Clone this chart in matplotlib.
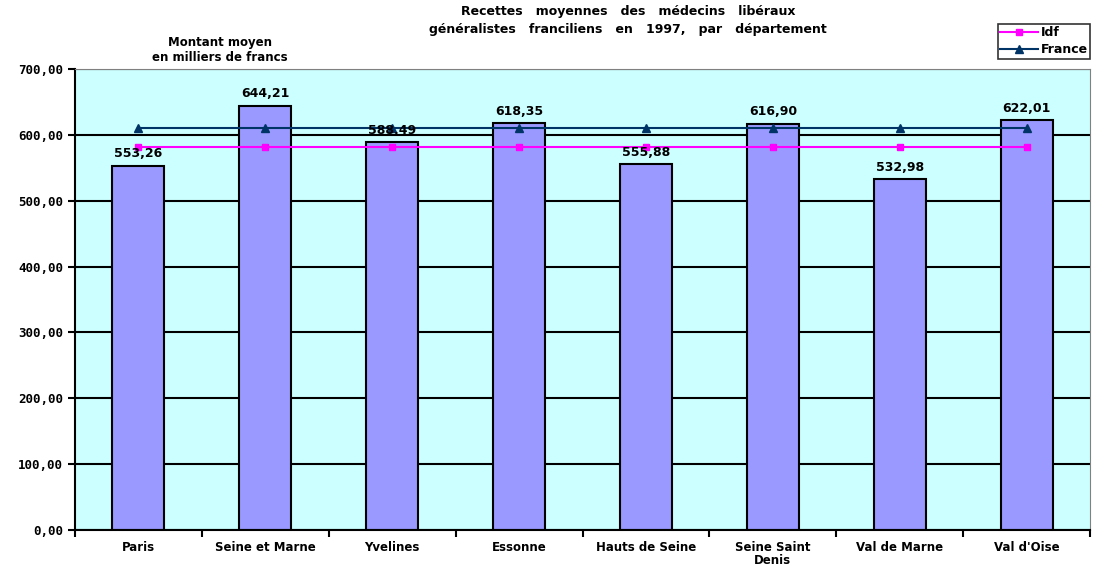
import numpy as np
import matplotlib
matplotlib.use('Agg')
import matplotlib.pyplot as plt
from matplotlib.ticker import FuncFormatter, FixedLocator

departements = ["Paris", "Seine et Marne", "Yvelines", "Essonne", "Hauts de Seine",
                "Seine Saint\nDenis", "Val de Marne", "Val d'Oise"]
montants = [553.26, 644.21, 588.49, 618.35, 555.88, 616.90, 532.98, 622.01]
idf = [581.6] * 8
france = [610.1] * 8

fig = plt.figure(figsize=(10.93, 5.71), dpi=100)
ax = fig.add_axes([75 / 1093, 41 / 571, 1015 / 1093, 461 / 571])
ax.set_facecolor("#CCFFFF")

x = np.arange(len(departements))
ax.bar(x, montants, width=0.41, color="#9999FF", edgecolor="black", linewidth=1.5, zorder=2)
ax.plot(x, idf, color="#FF00FF", marker="s", markersize=5, linewidth=1.5, label="Idf", zorder=3)
ax.plot(x, france, color="#003366", marker="^", markersize=6, linewidth=1.5, label="France", zorder=3)

for xi, v in zip(x, montants):
    ax.text(xi, v + 8, f"{v:.2f}".replace(".", ","), ha="center", va="bottom",
            fontsize=9, fontweight="bold")

ax.set_xlim(-0.5, len(departements) - 0.5)
ax.set_ylim(0, 700)
ax.yaxis.set_major_locator(FixedLocator(np.arange(0, 701, 100)))
ax.yaxis.set_major_formatter(FuncFormatter(lambda v, p: f"{v:.2f}".replace(".", ",")))
ax.grid(axis="y", color="black", linewidth=1.5, zorder=1)
ax.set_axisbelow(True)

ax.set_xticks(x)
ax.set_xticklabels(departements, fontsize=8.5, fontweight="bold", linespacing=1.0)
ax.tick_params(axis="x", length=0, pad=8)
ax.set_xticks(np.arange(-0.5, len(departements)), minor=True)
ax.tick_params(axis="x", which="minor", length=5, width=1.5, direction="out")
ax.tick_params(axis="y", length=5, width=1.5, labelsize=9)
for lab in ax.get_yticklabels():
    lab.set_fontweight("bold")
    lab.set_family("DejaVu Sans Mono")

for s in ["left", "bottom"]:
    ax.spines[s].set_linewidth(1.5)
ax.spines["top"].set_color("gray")
ax.spines["right"].set_color("gray")

fig.text(628 / 1093, 1 - 5 / 571,
         "Recettes   moyennes   des   médecins   libéraux\ngénéralistes   franciliens   en   1997,   par   département",
         ha="center", va="top", fontsize=9, fontweight="bold", linespacing=1.45)
fig.text(220 / 1093, 1 - 36 / 571, "Montant moyen\nen milliers de francs", ha="center", va="top",
         fontsize=8.5, fontweight="bold", linespacing=1.2)

leg = fig.legend(loc="upper right", bbox_to_anchor=(1090 / 1093, 1 - 24 / 571),
                 prop={"weight": "bold", "size": 9}, frameon=True, fancybox=False,
                 edgecolor="black", borderpad=0.2, labelspacing=0.3, handlelength=3,
                 handletextpad=0.2, borderaxespad=0)
leg.get_frame().set_linewidth(1.2)

fig.savefig("out.png", dpi=100)
